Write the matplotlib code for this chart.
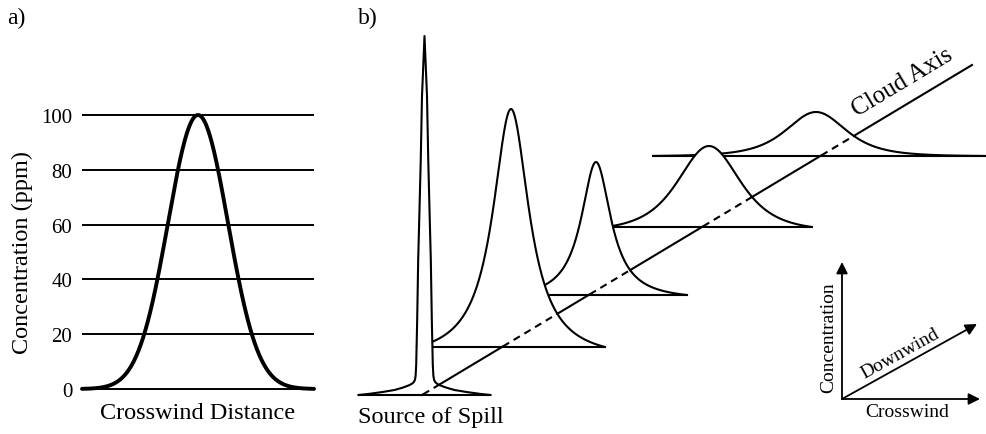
import numpy as np
import matplotlib.pyplot as plt

plt.rcParams['font.family'] = ['Liberation Serif', 'DejaVu Serif']

# a) crosswind concentration profile
conc_ticks = [0, 20, 40, 60, 80, 100]
profile_peak = 100
profile_sigma = 30
crosswind_half = 116

# b) profile slices along the cloud, nearest (source) first
slice_center = [424.5, 511, 596, 709, 816]
slice_base = [396, 348, 296, 228, 157]
slice_height = [359, 238, 133, 81, 44]
slice_width = [3, 22, 18, 57, 55]
slice_power = [1, 1, 1, 2, 2]
slice_left = [358, 417, 505, 606, 653]
slice_right = [490, 605, 687, 812, 987]

# the source spike is drawn from its read half-profile (distance, height)
spike_dist = [0, 2.5, 3.8, 5.5, 6.3, 7.3, 8.3, 8.9, 9.6, 11, 13, 16, 22, 30, 42, 55, 66]
spike_rise = [359, 299, 233, 166, 136, 76, 30, 19, 15, 12.5, 11, 9.5, 7.3, 5, 3, 1.2, 0]

cloud_axis_x = [422, 972]
cloud_axis_y = [396, 66]

# little direction key
key_origin = (842, 400)
key_tips = [(842, 263), (980, 400), (977, 325)]


def slice_curve(k):
    if k == 0:
        d = np.array(spike_dist)
        h = np.array(spike_rise)
        x = np.concatenate([slice_center[0] - d[::-1], slice_center[0] + d[1:]])
        y = slice_base[0] - np.concatenate([h[::-1], h[1:]])
        return x, y
    x = np.union1d(np.linspace(slice_left[k], slice_right[k], 2000), [slice_center[k]])
    g, p = slice_width[k], slice_power[k]
    shape = lambda u: (1 + (u / g) ** 2) ** (-p)
    dmax = max(slice_center[k] - slice_left[k], slice_right[k] - slice_center[k])
    f = (shape(x - slice_center[k]) - shape(dmax)) / (1 - shape(dmax))
    f = np.clip(f, 0, None)
    return x, slice_base[k] - slice_height[k] * f


fig = plt.figure(figsize=(9.87, 4.35), dpi=100)

# ---- panel a ----
W, H = 987, 435
ax = fig.add_axes([82 / W, (H - 390) / H, 232 / W, 274 / H])
xs = np.linspace(-crosswind_half, crosswind_half, 400)
ax.hlines(conc_ticks, -crosswind_half, crosswind_half, color='black', lw=1.4, clip_on=False)
ax.plot(xs, profile_peak * np.exp(-xs ** 2 / (2 * profile_sigma ** 2)), color='black',
        lw=2.8, clip_on=False, solid_capstyle='round', zorder=5)
ax.set_xlim(-crosswind_half, crosswind_half)
ax.set_ylim(0, 100)
ax.set_yticks(conc_ticks)
ax.set_xticks([])
ax.tick_params(axis='y', length=0, pad=7, labelsize=15)
for s in ax.spines.values():
    s.set_visible(False)
ax.set_ylabel('Concentration (ppm)', fontsize=17.5, va='center')
ax.yaxis.set_label_coords(-0.259, 0.5)
ax.set_xlabel('Crosswind Distance', fontsize=17.5, va='center')
ax.xaxis.set_label_coords(0.5, -0.084)

# ---- panel b ----
axb = fig.add_axes([0, 0, 1, 1])
axb.set_xlim(0, W)
axb.set_ylim(H, 0)
axb.axis('off')
axb.patch.set_alpha(0)

n = len(slice_center)
curves = []
for k in range(n):
    z = 20 - 2 * k
    x, y = slice_curve(k)
    curves.append((x, y))
    axb.fill_between(x, y, slice_base[k], color='white', lw=0, zorder=z)
    axb.plot(x, y, color='black', lw=1.5, zorder=z + 0.2)
    axb.hlines(slice_base[k], slice_left[k], slice_right[k], color='black', lw=1.5, zorder=z + 0.1)

# cloud axis: solid where seen, dashed where a nearer slice hides it
ax_x = np.linspace(cloud_axis_x[0], cloud_axis_x[1], 3000)
ax_y = np.interp(ax_x, cloud_axis_x, cloud_axis_y)
hidden = np.zeros(ax_x.size, bool)
for k, (x, y) in enumerate(curves):
    top = np.interp(ax_x, x, y, left=np.inf, right=np.inf)
    hidden |= (ax_y < slice_base[k] - 0.5) & (ax_y > top)
axb.plot(ax_x, np.ma.masked_where(hidden, ax_y), color='black', lw=1.5, zorder=30)
axb.plot(ax_x, np.ma.masked_where(~hidden, ax_y), color='black', lw=1.5,
         ls=(0, (3.5, 2.5)), zorder=30)

axb.text(7, 18, 'a)', fontsize=17, va='center')
axb.text(358, 18, 'b)', fontsize=17, va='center')
axb.text(358, 418, 'Source of Spill', fontsize=17.5, va='center')
axb.text(902, 83, 'Cloud Axis', fontsize=18, rotation=31, rotation_mode='anchor',
         ha='center', va='center')

for tip in key_tips:
    axb.annotate('', xy=tip, xytext=key_origin,
                 arrowprops=dict(arrowstyle='-|>', color='black', lw=1.3,
                                 mutation_scale=17, shrinkA=0, shrinkB=0))
axb.text(829, 338, 'Concentration', fontsize=14, rotation=90, ha='center', va='center')
axb.text(907, 413, 'Crosswind', fontsize=14, ha='center', va='center')
axb.text(900, 354, 'Downwind', fontsize=14, rotation=29, rotation_mode='anchor',
         ha='center', va='center')

fig.savefig('out.png', dpi=100, facecolor='white')
